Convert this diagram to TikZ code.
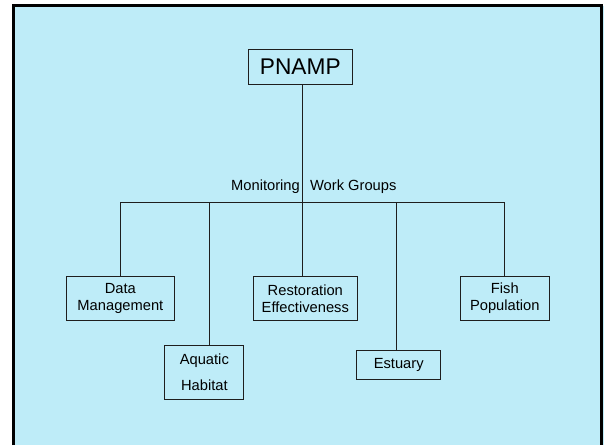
\documentclass[tikz,border=0pt]{standalone}
\usepackage{fontspec}
\setmainfont{Liberation Sans}
\definecolor{bgcyan}{RGB}{190,236,248}
\definecolor{linegray}{RGB}{30,30,30}
\begin{document}
\begin{tikzpicture}[x=1pt,y=-1pt,
  box/.style={draw=linegray, line width=1pt, inner sep=0pt, align=center,
    font=\fontsize{14.7}{16.7}\selectfont},
  conn/.style={draw=linegray, line width=1pt}]
\useasboundingbox (0,0) rectangle (604,445);
\fill[bgcyan] (13.5,5.5) rectangle (604,445);
\draw[line width=3pt, black] (13.5,445) -- (13.5,5.5) -- (601.5,5.5) -- (601.5,445);
% nodes
\node[box, minimum width=103.6pt, minimum height=34.7pt,
  font=\fontsize{22.7}{25}\selectfont] (pnamp) at (300.3,66.7) {PNAMP};
\node[box, minimum width=108.2pt, minimum height=44.7pt] (dm) at (120.4,298.4) {Data\\Management};
\node[box, minimum width=78.9pt, minimum height=54.3pt,
  font=\fontsize{14.7}{25.7}\selectfont] (ah) at (204.35,372.2) {Aquatic\\Habitat};
\node[box, minimum width=103.6pt, minimum height=44.7pt] (re) at (305.3,298.4) {Restoration\\Effectiveness};
\node[box, minimum width=84pt, minimum height=29.7pt] (es) at (398.7,364.9) {Estuary};
\node[box, minimum width=89pt, minimum height=44.7pt] (fp) at (504.8,298.4) {Fish\\Population};
\node[anchor=base west, inner sep=0pt, font=\fontsize{14.7}{16.7}\selectfont] (mwg) at (231,190.7) {Monitoring\hspace{10.3pt}Work Groups};
% junctions
\coordinate (hub) at (302.4,202.3);
\coordinate (jD) at (120.6,202.3);
\coordinate (jA) at (209.2,202.3);
\coordinate (jR) at (302.4,202.3);
\coordinate (jE) at (396.5,202.3);
\coordinate (jF) at (504.6,202.3);
% connectors
\draw[conn] (hub |- pnamp.south) -- (hub);
\draw[conn] (jD) -- (jF);
\draw[conn] (jD) -- (jD |- dm.north);
\draw[conn] (jA) -- (jA |- ah.north);
\draw[conn] (jR) -- (jR |- re.north);
\draw[conn] (jE) -- (jE |- es.north);
\draw[conn] (jF) -- (jF |- fp.north);
\end{tikzpicture}
\end{document}
